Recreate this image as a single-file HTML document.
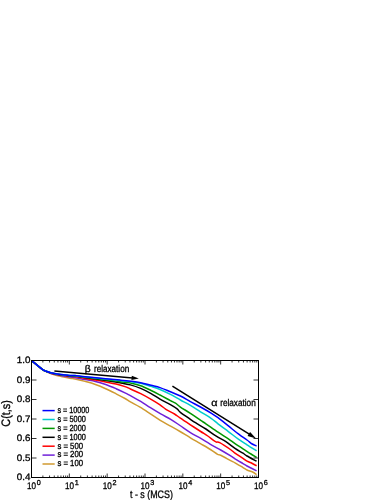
<!DOCTYPE html>
<html><head><meta charset="utf-8"><title>C(t,s)</title>
<style>html,body{margin:0;padding:0;background:#fff;}body{width:386px;height:500px;overflow:hidden;}svg{display:block;}text{font-family:"Liberation Sans",sans-serif;fill:#000;stroke:#000;stroke-width:0.3px;text-rendering:geometricPrecision;}</style>
</head><body>
<svg width="386" height="500" viewBox="0 0 386 500" style="will-change:transform">
<rect x="0" y="0" width="386" height="500" fill="#fff"/>
<g fill="none" stroke-width="1.5" stroke-linejoin="round" stroke-linecap="butt">
<path stroke="#d09a30" d="M31.60 360.60 C33.40 362.08 40.08 367.72 42.40 369.50 C44.72 371.28 44.12 370.62 45.50 371.30 C46.88 371.98 48.97 372.95 50.70 373.60 C52.43 374.25 54.17 374.73 55.90 375.20 C57.63 375.67 58.75 375.90 61.10 376.40 C63.45 376.90 67.68 377.78 70.00 378.20 C72.32 378.62 72.50 378.37 75.00 378.90 C77.50 379.43 81.60 380.47 85.00 381.40 C88.40 382.33 91.95 383.28 95.40 384.50 C98.85 385.72 102.25 387.15 105.70 388.70 C109.15 390.25 112.88 392.17 116.10 393.80 C119.32 395.43 122.62 397.15 125.00 398.50 C127.38 399.85 127.90 400.45 130.40 401.90 C132.90 403.35 136.67 405.20 140.00 407.20 C143.33 409.20 146.95 411.65 150.40 413.90 C153.85 416.15 157.25 418.62 160.70 420.70 C164.15 422.78 167.88 424.60 171.10 426.40 C174.32 428.20 176.78 429.60 180.00 431.50 C183.22 433.40 187.00 435.78 190.40 437.80 C193.80 439.82 197.07 441.65 200.40 443.60 C203.73 445.55 207.53 447.70 210.40 449.50 C213.27 451.30 215.88 453.45 217.60 454.40 C219.32 455.35 218.45 454.12 220.70 455.20 C222.95 456.28 228.72 459.63 231.10 460.90 C233.48 462.17 233.02 461.68 235.00 462.80 C236.98 463.92 241.00 466.40 243.00 467.60 C245.00 468.80 245.40 469.27 247.00 470.00 C248.60 470.73 251.00 471.23 252.60 472.00 C254.20 472.77 255.93 474.17 256.60 474.60"/>
<path stroke="#7020d8" d="M31.60 360.60 C33.40 362.08 40.08 367.69 42.40 369.46 C44.72 371.22 44.12 370.54 45.50 371.17 C46.88 371.79 48.97 372.63 50.70 373.20 C52.43 373.77 54.17 374.20 55.90 374.58 C57.63 374.97 58.75 375.12 61.10 375.52 C63.45 375.92 67.68 376.65 70.00 376.97 C72.32 377.28 72.50 376.96 75.00 377.40 C77.50 377.84 81.60 378.93 85.00 379.60 C88.40 380.27 91.95 380.58 95.40 381.40 C98.85 382.22 102.25 383.28 105.70 384.50 C109.15 385.72 112.88 387.32 116.10 388.70 C119.32 390.08 122.62 391.63 125.00 392.80 C127.38 393.97 127.78 394.27 130.40 395.70 C133.02 397.13 137.37 399.40 140.70 401.40 C144.03 403.40 147.07 405.62 150.40 407.70 C153.73 409.78 157.25 411.92 160.70 413.90 C164.15 415.88 167.88 417.67 171.10 419.60 C174.32 421.53 176.78 423.33 180.00 425.50 C183.22 427.67 187.00 430.48 190.40 432.60 C193.80 434.72 197.07 436.25 200.40 438.20 C203.73 440.15 207.02 442.33 210.40 444.30 C213.78 446.27 217.25 448.02 220.70 450.00 C224.15 451.98 228.72 454.73 231.10 456.20 C233.48 457.67 233.02 457.57 235.00 458.80 C236.98 460.03 241.00 462.40 243.00 463.60 C245.00 464.80 245.67 465.27 247.00 466.00 C248.33 466.73 249.40 467.20 251.00 468.00 C252.60 468.80 255.67 470.33 256.60 470.80"/>
<path stroke="#ff0000" d="M31.60 360.60 C33.40 362.07 40.08 367.68 42.40 369.43 C44.72 371.18 44.12 370.50 45.50 371.09 C46.88 371.68 48.97 372.46 50.70 372.98 C52.43 373.50 54.17 373.89 55.90 374.23 C57.63 374.57 58.75 374.68 61.10 375.02 C63.45 375.36 67.68 376.00 70.00 376.27 C72.32 376.53 72.50 376.24 75.00 376.60 C77.50 376.96 81.60 377.83 85.00 378.40 C88.40 378.97 91.95 379.42 95.40 380.00 C98.85 380.58 102.25 381.23 105.70 381.90 C109.15 382.57 112.88 383.22 116.10 384.00 C119.32 384.78 122.62 385.77 125.00 386.60 C127.38 387.43 127.78 387.83 130.40 389.00 C133.02 390.17 137.25 391.88 140.70 393.60 C144.15 395.32 147.88 397.43 151.10 399.30 C154.32 401.17 157.53 403.13 160.00 404.80 C162.47 406.47 163.48 407.77 165.90 409.30 C168.32 410.83 172.15 412.57 174.50 414.00 C176.85 415.43 177.35 416.10 180.00 417.90 C182.65 419.70 186.95 422.53 190.40 424.80 C193.85 427.07 197.80 429.63 200.70 431.50 C203.60 433.37 205.33 434.30 207.80 436.00 C210.27 437.70 213.52 440.58 215.50 441.70 C217.48 442.82 217.10 441.32 219.70 442.70 C222.30 444.08 228.55 448.25 231.10 450.00 C233.65 451.75 233.02 451.80 235.00 453.20 C236.98 454.60 241.00 457.07 243.00 458.40 C245.00 459.73 245.67 460.47 247.00 461.20 C248.33 461.93 249.40 462.03 251.00 462.80 C252.60 463.57 255.67 465.30 256.60 465.80"/>
<path stroke="#000000" d="M31.60 360.60 C33.40 362.07 40.08 367.68 42.40 369.42 C44.72 371.16 44.12 370.48 45.50 371.05 C46.88 371.62 48.97 372.36 50.70 372.85 C52.43 373.35 54.17 373.72 55.90 374.04 C57.63 374.35 58.75 374.43 61.10 374.74 C63.45 375.05 67.68 375.65 70.00 375.88 C72.32 376.10 72.50 375.83 75.00 376.10 C77.50 376.37 79.88 376.78 85.00 377.50 C90.12 378.22 99.87 379.52 105.70 380.40 C111.53 381.28 115.88 382.05 120.00 382.80 C124.12 383.55 126.95 383.97 130.40 384.90 C133.85 385.83 137.25 386.95 140.70 388.40 C144.15 389.85 147.88 391.80 151.10 393.60 C154.32 395.40 156.78 397.35 160.00 399.20 C163.22 401.05 167.55 403.08 170.40 404.70 C173.25 406.32 175.43 407.63 177.10 408.90 C178.77 410.17 178.18 410.57 180.40 412.30 C182.62 414.03 187.88 417.57 190.40 419.30 C192.92 421.03 192.92 421.08 195.50 422.70 C198.08 424.32 202.43 426.75 205.90 429.00 C209.37 431.25 212.97 434.08 216.30 436.20 C219.63 438.32 222.78 439.67 225.90 441.70 C229.02 443.73 232.15 446.48 235.00 448.40 C237.85 450.32 241.00 451.93 243.00 453.20 C245.00 454.47 244.73 454.67 247.00 456.00 C249.27 457.33 255.00 460.33 256.60 461.20"/>
<path stroke="#009800" d="M31.60 360.60 C33.40 362.07 40.08 367.67 42.40 369.41 C44.72 371.15 44.12 370.47 45.50 371.03 C46.88 371.60 48.97 372.31 50.70 372.80 C52.43 373.29 54.17 373.65 55.90 373.95 C57.63 374.26 58.75 374.33 61.10 374.62 C63.45 374.91 67.68 375.49 70.00 375.71 C72.32 375.92 72.50 375.65 75.00 375.90 C77.50 376.15 79.88 376.57 85.00 377.20 C90.12 377.83 99.87 378.95 105.70 379.70 C111.53 380.45 115.88 381.17 120.00 381.70 C124.12 382.23 126.95 382.22 130.40 382.90 C133.85 383.58 137.25 384.53 140.70 385.80 C144.15 387.07 147.88 388.97 151.10 390.50 C154.32 392.03 156.78 393.32 160.00 395.00 C163.22 396.68 167.82 399.23 170.40 400.60 C172.98 401.97 173.83 402.12 175.50 403.20 C177.17 404.28 177.92 405.42 180.40 407.10 C182.88 408.78 187.02 411.08 190.40 413.30 C193.78 415.52 198.12 418.65 200.70 420.40 C203.28 422.15 203.02 421.85 205.90 423.80 C208.78 425.75 214.25 429.58 218.00 432.10 C221.75 434.62 225.57 436.98 228.40 438.90 C231.23 440.82 232.57 441.95 235.00 443.60 C237.43 445.25 240.33 447.07 243.00 448.80 C245.67 450.53 248.73 452.57 251.00 454.00 C253.27 455.43 255.67 456.83 256.60 457.40"/>
<path stroke="#00cccc" d="M31.60 360.60 C33.40 362.07 40.08 367.67 42.40 369.40 C44.72 371.14 44.12 370.46 45.50 371.01 C46.88 371.56 48.97 372.25 50.70 372.73 C52.43 373.20 54.17 373.55 55.90 373.84 C57.63 374.13 58.75 374.19 61.10 374.46 C63.45 374.73 67.68 375.29 70.00 375.48 C72.32 375.67 72.50 375.38 75.00 375.60 C77.50 375.82 79.88 376.23 85.00 376.80 C90.12 377.37 99.87 378.40 105.70 379.00 C111.53 379.60 115.88 379.97 120.00 380.40 C124.12 380.83 126.95 381.13 130.40 381.60 C133.85 382.07 137.25 382.40 140.70 383.20 C144.15 384.00 147.88 385.35 151.10 386.40 C154.32 387.45 156.78 388.17 160.00 389.50 C163.22 390.83 167.00 392.65 170.40 394.40 C173.80 396.15 177.07 398.18 180.40 400.00 C183.73 401.82 187.05 403.33 190.40 405.30 C193.75 407.27 197.05 409.63 200.50 411.80 C203.95 413.97 208.18 416.30 211.10 418.30 C214.02 420.30 215.12 421.58 218.00 423.80 C220.88 426.02 224.95 429.00 228.40 431.60 C231.85 434.20 235.60 437.20 238.70 439.40 C241.80 441.60 244.02 442.90 247.00 444.80 C249.98 446.70 255.00 449.80 256.60 450.80"/>
<path stroke="#0000ff" d="M31.60 360.60 C33.40 362.07 40.08 367.67 42.40 369.40 C44.72 371.13 44.12 370.45 45.50 371.00 C46.88 371.55 48.97 372.23 50.70 372.70 C52.43 373.17 54.17 373.52 55.90 373.80 C57.63 374.08 58.75 374.13 61.10 374.40 C63.45 374.67 67.68 375.22 70.00 375.40 C72.32 375.58 72.50 375.28 75.00 375.50 C77.50 375.72 79.88 376.15 85.00 376.70 C90.12 377.25 99.87 378.23 105.70 378.80 C111.53 379.37 115.88 379.70 120.00 380.10 C124.12 380.50 126.95 380.77 130.40 381.20 C133.85 381.63 137.25 382.02 140.70 382.70 C144.15 383.38 147.88 384.48 151.10 385.30 C154.32 386.12 156.78 386.52 160.00 387.60 C163.22 388.68 167.00 390.40 170.40 391.80 C173.80 393.20 177.07 394.37 180.40 396.00 C183.73 397.63 187.05 399.77 190.40 401.60 C193.75 403.43 197.05 405.08 200.50 407.00 C203.95 408.92 208.18 411.33 211.10 413.10 C214.02 414.87 215.12 415.47 218.00 417.60 C220.88 419.73 224.95 423.13 228.40 425.90 C231.85 428.67 235.60 431.85 238.70 434.20 C241.80 436.55 244.75 438.37 247.00 440.00 C249.25 441.63 250.60 443.00 252.20 444.00 C253.80 445.00 255.87 445.67 256.60 446.00"/>
</g>
<g stroke="#000" stroke-width="1" fill="none" shape-rendering="crispEdges">
<rect x="31.5" y="360.5" width="227.0" height="117.0"/>
</g>
<path stroke="#000" stroke-width="0.8" fill="none" d="M42.89 477.50v-2 M42.89 360.50v2 M49.55 477.50v-2 M49.55 360.50v2 M54.28 477.50v-2 M54.28 360.50v2 M57.94 477.50v-2 M57.94 360.50v2 M60.94 477.50v-2 M60.94 360.50v2 M63.47 477.50v-2 M63.47 360.50v2 M65.67 477.50v-2 M65.67 360.50v2 M67.60 477.50v-2 M67.60 360.50v2 M69.33 477.50v-4 M69.33 360.50v4 M80.72 477.50v-2 M80.72 360.50v2 M87.38 477.50v-2 M87.38 360.50v2 M92.11 477.50v-2 M92.11 360.50v2 M95.78 477.50v-2 M95.78 360.50v2 M98.77 477.50v-2 M98.77 360.50v2 M101.31 477.50v-2 M101.31 360.50v2 M103.50 477.50v-2 M103.50 360.50v2 M105.44 477.50v-2 M105.44 360.50v2 M107.17 477.50v-4 M107.17 360.50v4 M118.56 477.50v-2 M118.56 360.50v2 M125.22 477.50v-2 M125.22 360.50v2 M129.94 477.50v-2 M129.94 360.50v2 M133.61 477.50v-2 M133.61 360.50v2 M136.61 477.50v-2 M136.61 360.50v2 M139.14 477.50v-2 M139.14 360.50v2 M141.33 477.50v-2 M141.33 360.50v2 M143.27 477.50v-2 M143.27 360.50v2 M145.00 477.50v-4 M145.00 360.50v4 M156.39 477.50v-2 M156.39 360.50v2 M163.05 477.50v-2 M163.05 360.50v2 M167.78 477.50v-2 M167.78 360.50v2 M171.44 477.50v-2 M171.44 360.50v2 M174.44 477.50v-2 M174.44 360.50v2 M176.97 477.50v-2 M176.97 360.50v2 M179.17 477.50v-2 M179.17 360.50v2 M181.10 477.50v-2 M181.10 360.50v2 M182.83 477.50v-4 M182.83 360.50v4 M194.22 477.50v-2 M194.22 360.50v2 M200.88 477.50v-2 M200.88 360.50v2 M205.61 477.50v-2 M205.61 360.50v2 M209.28 477.50v-2 M209.28 360.50v2 M212.27 477.50v-2 M212.27 360.50v2 M214.81 477.50v-2 M214.81 360.50v2 M217.00 477.50v-2 M217.00 360.50v2 M218.94 477.50v-2 M218.94 360.50v2 M220.67 477.50v-4 M220.67 360.50v4 M232.06 477.50v-2 M232.06 360.50v2 M238.72 477.50v-2 M238.72 360.50v2 M243.44 477.50v-2 M243.44 360.50v2 M247.11 477.50v-2 M247.11 360.50v2 M250.11 477.50v-2 M250.11 360.50v2 M252.64 477.50v-2 M252.64 360.50v2 M254.83 477.50v-2 M254.83 360.50v2 M256.77 477.50v-2 M256.77 360.50v2 M31.50 380.00h5 M258.50 380.00h-5 M31.50 399.50h5 M258.50 399.50h-5 M31.50 419.00h5 M258.50 419.00h-5 M31.50 438.50h5 M258.50 438.50h-5 M31.50 458.00h5 M258.50 458.00h-5"/>
<text x="30.4" y="363.35" font-size="9.3" text-anchor="end" textLength="13.6" lengthAdjust="spacingAndGlyphs">1.0</text>
<text x="30.4" y="382.85" font-size="9.3" text-anchor="end" textLength="13.6" lengthAdjust="spacingAndGlyphs">0.9</text>
<text x="30.4" y="402.35" font-size="9.3" text-anchor="end" textLength="13.6" lengthAdjust="spacingAndGlyphs">0.8</text>
<text x="30.4" y="421.85" font-size="9.3" text-anchor="end" textLength="13.6" lengthAdjust="spacingAndGlyphs">0.7</text>
<text x="30.4" y="441.35" font-size="9.3" text-anchor="end" textLength="13.6" lengthAdjust="spacingAndGlyphs">0.6</text>
<text x="30.4" y="460.85" font-size="9.3" text-anchor="end" textLength="13.6" lengthAdjust="spacingAndGlyphs">0.5</text>
<text x="30.4" y="480.35" font-size="9.3" text-anchor="end" textLength="13.6" lengthAdjust="spacingAndGlyphs">0.4</text>
<text x="27.10" y="488.6" font-size="9.6" textLength="9.0" lengthAdjust="spacingAndGlyphs">10</text>
<text x="36.80" y="485.0" font-size="7.2" textLength="4.0" lengthAdjust="spacingAndGlyphs">0</text>
<text x="64.93" y="488.6" font-size="9.6" textLength="9.0" lengthAdjust="spacingAndGlyphs">10</text>
<text x="74.63" y="485.0" font-size="7.2" textLength="4.0" lengthAdjust="spacingAndGlyphs">1</text>
<text x="102.77" y="488.6" font-size="9.6" textLength="9.0" lengthAdjust="spacingAndGlyphs">10</text>
<text x="112.47" y="485.0" font-size="7.2" textLength="4.0" lengthAdjust="spacingAndGlyphs">2</text>
<text x="140.60" y="488.6" font-size="9.6" textLength="9.0" lengthAdjust="spacingAndGlyphs">10</text>
<text x="150.30" y="485.0" font-size="7.2" textLength="4.0" lengthAdjust="spacingAndGlyphs">3</text>
<text x="178.43" y="488.6" font-size="9.6" textLength="9.0" lengthAdjust="spacingAndGlyphs">10</text>
<text x="188.13" y="485.0" font-size="7.2" textLength="4.0" lengthAdjust="spacingAndGlyphs">4</text>
<text x="216.27" y="488.6" font-size="9.6" textLength="9.0" lengthAdjust="spacingAndGlyphs">10</text>
<text x="225.97" y="485.0" font-size="7.2" textLength="4.0" lengthAdjust="spacingAndGlyphs">5</text>
<text x="254.10" y="488.6" font-size="9.6" textLength="9.0" lengthAdjust="spacingAndGlyphs">10</text>
<text x="263.80" y="485.0" font-size="7.2" textLength="4.0" lengthAdjust="spacingAndGlyphs">6</text>
<text x="130" y="497.5" font-size="10.8" textLength="42.9" lengthAdjust="spacingAndGlyphs">t - s (MCS)</text>
<text transform="translate(10.1 426.7) rotate(-90)" font-size="12.3" textLength="26.6" lengthAdjust="spacingAndGlyphs">C(t,s)</text>
<path stroke="#0000ff" stroke-width="1.5" d="M42.5 410.60H54.7"/>
<text x="57.4" y="412.90" font-size="8.9" textLength="31.9" lengthAdjust="spacingAndGlyphs">s = 10000</text>
<path stroke="#00cccc" stroke-width="1.5" d="M42.5 419.50H54.7"/>
<text x="57.4" y="421.80" font-size="8.9" textLength="28.5" lengthAdjust="spacingAndGlyphs">s = 5000</text>
<path stroke="#009800" stroke-width="1.5" d="M42.5 428.40H54.7"/>
<text x="57.4" y="430.70" font-size="8.9" textLength="28.5" lengthAdjust="spacingAndGlyphs">s = 2000</text>
<path stroke="#000000" stroke-width="1.5" d="M42.5 437.30H54.7"/>
<text x="57.4" y="439.60" font-size="8.9" textLength="28.5" lengthAdjust="spacingAndGlyphs">s = 1000</text>
<path stroke="#ff0000" stroke-width="1.5" d="M42.5 446.20H54.7"/>
<text x="57.4" y="448.50" font-size="8.9" textLength="25.7" lengthAdjust="spacingAndGlyphs">s = 500</text>
<path stroke="#7020d8" stroke-width="1.5" d="M42.5 455.10H54.7"/>
<text x="57.4" y="457.40" font-size="8.9" textLength="25.7" lengthAdjust="spacingAndGlyphs">s = 200</text>
<path stroke="#d09a30" stroke-width="1.5" d="M42.5 464.00H54.7"/>
<text x="57.4" y="466.30" font-size="8.9" textLength="25.7" lengthAdjust="spacingAndGlyphs">s = 100</text>
<text x="84.8" y="371.6" font-size="9.8" textLength="5.9" lengthAdjust="spacingAndGlyphs">β</text>
<text x="94.0" y="371.6" font-size="9.8" textLength="35.2" lengthAdjust="spacingAndGlyphs">relaxation</text>
<text x="211.2" y="406.2" font-size="9.8" textLength="6.3" lengthAdjust="spacingAndGlyphs">α</text>
<text x="220.2" y="406.2" font-size="9.8" textLength="35.5" lengthAdjust="spacingAndGlyphs">relaxation</text>
<path stroke="#000" stroke-width="1.40" fill="none" d="M54.40 371.00L132.62 377.95"/><path fill="#000" d="M138.80 378.50L131.44 380.00L131.82 375.72Z"/>
<path stroke="#000" stroke-width="1.50" fill="none" d="M172.40 386.10L249.66 434.47"/><path fill="#000" d="M256.10 438.50L247.56 435.93L250.06 431.94Z"/>
</svg>
</body></html>
